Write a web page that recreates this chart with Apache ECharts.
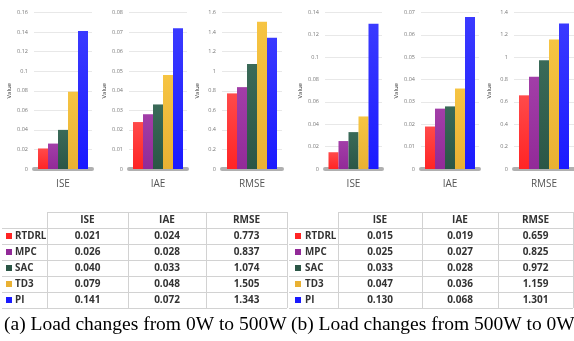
<!DOCTYPE html>
<html>
<head>
<meta charset="utf-8">
<script src="https://cdn.jsdelivr.net/npm/echarts@6/dist/echarts.min.js"></script>
<style>
  html, body { margin: 0; padding: 0; background: #fff; }
  #main { width: 574px; height: 341px; }
</style>
</head>
<body>
<div id="main"></div>
<script>
// methods and metrics
const methods = ['RTDRL', 'MPC', 'SAC', 'TD3', 'PI'];
const metrics = ['ISE', 'IAE', 'RMSE'];

// (a) load changes from 0W to 500W
const iseA = [0.021, 0.026, 0.040, 0.079, 0.141];
const iaeA = [0.024, 0.028, 0.033, 0.048, 0.072];
const rmseA = [0.773, 0.837, 1.074, 1.505, 1.343];

// (b) load changes from 500W to 0W
const iseB = [0.015, 0.025, 0.033, 0.047, 0.130];
const iaeB = [0.019, 0.027, 0.028, 0.036, 0.068];
const rmseB = [0.659, 0.825, 0.972, 1.159, 1.301];

// y axis ranges of the six small charts
const yMaxA = [0.16, 0.08, 1.6];
const yStepA = [0.02, 0.01, 0.2];
const yMaxB = [0.14, 0.07, 1.4];
const yStepB = [0.02, 0.01, 0.2];

const captionA = '(a) Load changes from 0W to 500W';
const captionB = '(b) Load changes from 500W to 0W';

const colors = ['#ff2424', '#922a98', '#2b5646', '#e9b133', '#1a1aff'];
const colorsTop = ['#ff4a4a', '#a23ea8', '#3a6a58', '#f6c442', '#3a3aff'];

// grid positions (left, width) of the six charts
const gridPos = [[34, 58], [129, 58], [222, 60], [325, 57], [421, 58], [514, 60]];

const panels = [
  { vals: [iseA, iaeA, rmseA], max: yMaxA, step: yStepA },
  { vals: [iseB, iaeB, rmseB], max: yMaxB, step: yStepB }
];

const grid = [], xAxis = [], yAxis = [], series = [];
let k = 0;
panels.forEach(p => {
  metrics.forEach((m, j) => {
    grid.push({ left: gridPos[k][0], width: gridPos[k][1], top: 12.5, height: 156.5 });
    xAxis.push({
      type: 'category', gridIndex: k, data: [m],
      axisLine: { lineStyle: { color: '#b0b0b0', width: 4 } },
      axisTick: { show: false },
      axisLabel: { fontSize: 10, color: '#555', margin: 10, fontFamily: 'Open Sans' }
    });
    yAxis.push({
      type: 'value', gridIndex: k, min: 0, max: p.max[j], interval: p.step[j],
      name: 'Value', nameLocation: 'middle', nameGap: 22,
      nameTextStyle: { fontSize: 6, color: '#333', fontFamily: 'Open Sans' },
      axisLine: { show: false },
      axisTick: { show: false },
      axisLabel: { fontSize: 5.5, color: '#777', margin: 6, fontFamily: 'Open Sans' },
      splitLine: { lineStyle: { color: '#e8e8e8' } }
    });
    methods.forEach((name, i) => {
      series.push({
        type: 'bar', name: name, xAxisIndex: k, yAxisIndex: k,
        barWidth: 10, barGap: '0%',
        data: [p.vals[j][i]],
        itemStyle: {
          color: new echarts.graphic.LinearGradient(0, 0, 0, 1, [
            { offset: 0, color: colorsTop[i] },
            { offset: 1, color: colors[i] }
          ])
        }
      });
    });
    k++;
  });
});

// tables under the charts
const rowTop = 228, rowH = 16, headTop = 212;
const textFont = 'bold 10px "Open Sans"';
const graphic = [];

function line(x1, y1, x2, y2) {
  graphic.push({
    type: 'line', silent: true,
    shape: { x1: x1, y1: y1, x2: x2, y2: y2 },
    style: { stroke: '#d2d2d2', lineWidth: 1 }
  });
}
function text(str, x, y, align, font, fill) {
  graphic.push({
    type: 'text', silent: true, x: x, y: y,
    style: { text: str, font: font, fill: fill || '#333', align: align, verticalAlign: 'middle' }
  });
}

function drawTable(x0, cols, vals, labelX, gap) {
  const bottom = rowTop + rowH * methods.length;
  line(cols[0], headTop + 0.5, cols[3], headTop + 0.5);
  for (let r = 0; r <= methods.length; r++) {
    const y = rowTop + rowH * r + 0.5;
    line(x0, y, cols[3], y);
  }
  cols.forEach(c => line(c + 0.5, headTop, c + 0.5, bottom));
  metrics.forEach((m, j) => {
    const cx = (cols[j] + cols[j + 1]) / 2;
    text(m, cx, headTop + rowH / 2, 'center', textFont);
    vals[j].forEach((v, i) => {
      text(v.toFixed(3), cx, rowTop + rowH * i + rowH / 2, 'center', textFont);
    });
  });
  methods.forEach((name, i) => {
    const cy = rowTop + rowH * i + rowH / 2;
    graphic.push({
      type: 'rect', silent: true,
      shape: { x: labelX, y: cy - 3, width: 6, height: 6 },
      style: { fill: colors[i] }
    });
    text(name, labelX + gap, cy, 'left', 'bold 9.8px "Open Sans"');
  });
}

drawTable(2, [47, 128, 206, 287], panels[0].vals, 6, 9);
drawTable(289, [338, 422, 498, 573], panels[1].vals, 295, 10);

// captions
text(captionA, 4, 325, 'left', '19.5px "Liberation Serif"', '#000');
text(captionB, 291, 325, 'left', '19.5px "Liberation Serif"', '#000');

const myChart = echarts.init(document.getElementById('main'));
myChart.setOption({
  backgroundColor: '#fff',
  animation: false,
  grid: grid,
  xAxis: xAxis,
  yAxis: yAxis,
  series: series,
  graphic: graphic
});
</script>
</body>
</html>
